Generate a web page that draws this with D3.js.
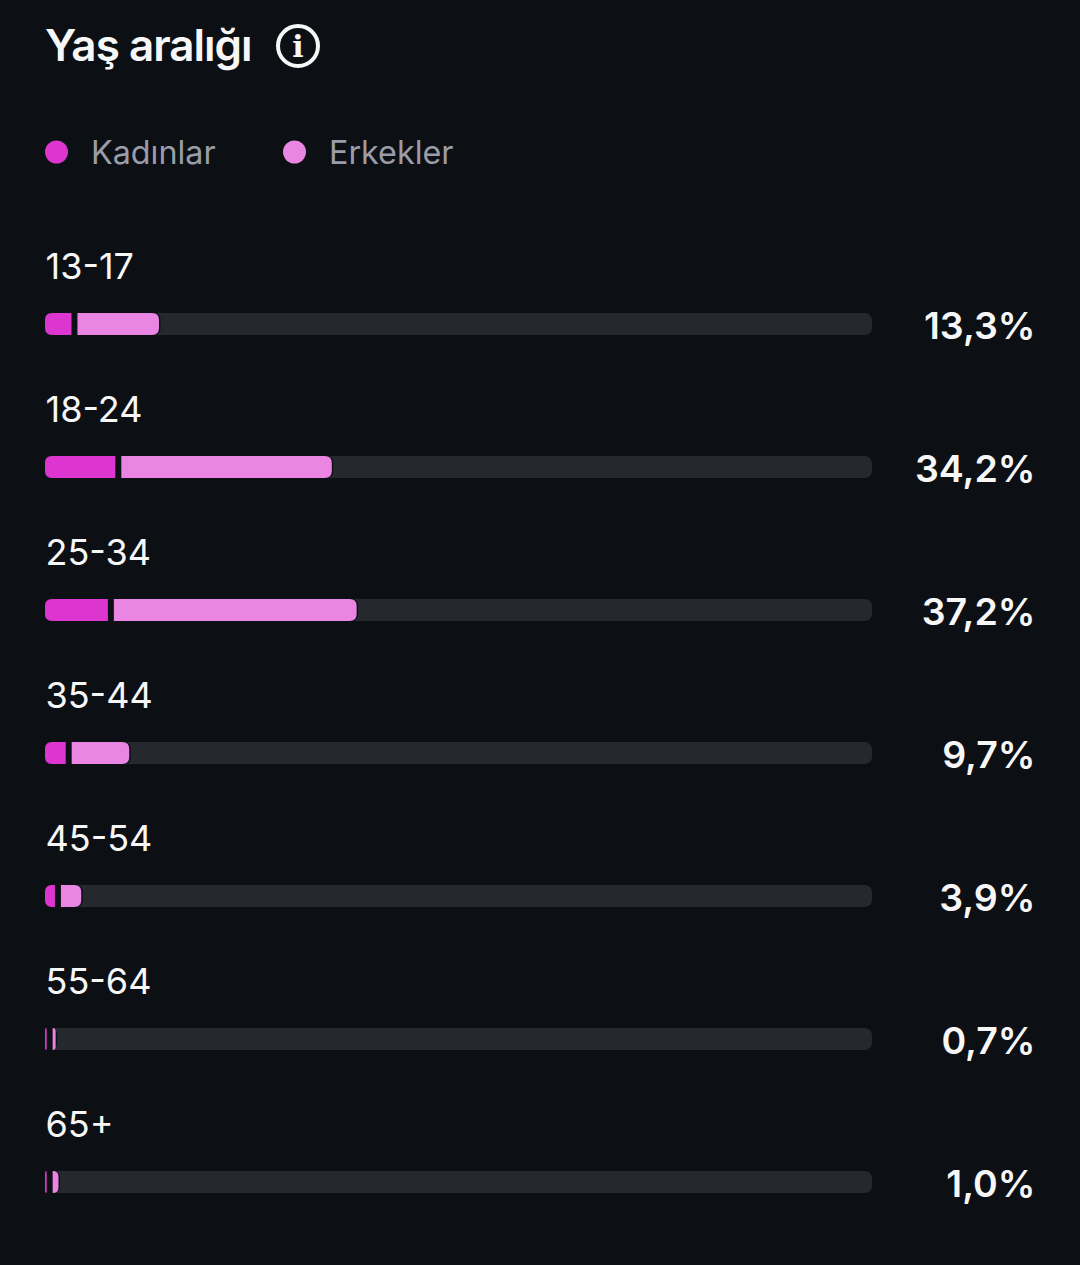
<!DOCTYPE html>
<html>
<head>
<meta charset="utf-8">
<script src="https://cdn.jsdelivr.net/npm/d3@7"></script>
<style>
  html, body { margin: 0; padding: 0; background: #0c0f14; }
  svg { display: block; font-family: Inter, "Noto Sans", sans-serif; }
</style>
</head>
<body>
<div id="chart"></div>
<script>
var categories = ['13-17', '18-24', '25-34', '35-44', '45-54', '55-64', '65+']
var women = [3.2, 8.5, 7.6, 2.5, 1.2, 0.2, 0.2]
var men = [10.1, 25.7, 29.6, 7.2, 2.7, 0.6, 0.95]
var totals = ['13,3%', '34,2%', '37,2%', '9,7%', '3,9%', '0,7%', '1,0%']
var seriesNames = ['Kadınlar', 'Erkekler']

var width = 1080, height = 1265
var background = '#0c0f14'
var barX = 45, barEnd = 872, barHeight = 22, gap = 6, edge = 1.5

var svg = d3.select('#chart').append('svg')
    .attr('width', width)
    .attr('height', height)

var x = d3.scaleLinear().domain([0, 100]).range([0, barEnd - barX])
var y = d3.scalePoint().domain(categories).range([324, 1182])
var color = d3.scaleOrdinal().domain(seriesNames).range(['#dd35cf', '#ea85e3'])

// bar with only the left or right corners rounded
function segment(x0, x1, cy, side) {
    var top = cy - barHeight / 2, bottom = cy + barHeight / 2
    var r = Math.min(7, x1 - x0)
    if (side == 'left') {
        return 'M' + x1 + ',' + top + 'H' + (x0 + r) + 'Q' + x0 + ',' + top + ' ' + x0 + ',' + (top + r) +
            'V' + (bottom - r) + 'Q' + x0 + ',' + bottom + ' ' + (x0 + r) + ',' + bottom + 'H' + x1 + 'Z'
    }
    return 'M' + x0 + ',' + top + 'H' + (x1 - r) + 'Q' + x1 + ',' + top + ' ' + x1 + ',' + (top + r) +
        'V' + (bottom - r) + 'Q' + x1 + ',' + bottom + ' ' + (x1 - r) + ',' + bottom + 'H' + x0 + 'Z'
}

// start and end of the men's segment, the gap and dark edge come out of its width
function menStart(i) { return barX + x(women[i]) + gap }
function menEnd(i) { return menStart(i) + x(men[i]) - 2 }

// title and info icon
svg.append('text')
    .attr('x', 45)
    .attr('y', 61)
    .attr('fill', '#f7f7f8')
    .attr('font-size', '44px')
    .attr('font-weight', 600)
    .attr('letter-spacing', '-1px')
    .text('Yaş aralığı')

svg.append('circle')
    .attr('cx', 298)
    .attr('cy', 46)
    .attr('r', 20)
    .attr('fill', 'none')
    .attr('stroke', '#f7f7f8')
    .attr('stroke-width', 4)

svg.append('text')
    .attr('x', 298)
    .attr('y', 57)
    .attr('text-anchor', 'middle')
    .attr('fill', '#f7f7f8')
    .attr('font-family', '"DejaVu Serif", serif')
    .attr('font-weight', 700)
    .attr('font-size', '30px')
    .text('i')

// legend
var legendX = d3.scaleOrdinal().domain(seriesNames).range([56.5, 294.5])

var legend = svg.selectAll('.legend')
    .data(seriesNames)
    .enter()
    .append('g')
    .attr('class', 'legend')

legend.append('circle')
    .attr('cx', function (d) { return legendX(d) })
    .attr('cy', 152)
    .attr('r', 11.5)
    .attr('fill', function (d) { return color(d) })

legend.append('text')
    .attr('x', function (d) { return legendX(d) + 34.5 })
    .attr('y', 164)
    .attr('fill', '#9a9da8')
    .attr('font-size', '32.3px')
    .text(function (d) { return d })

// rows
var row = svg.selectAll('.row')
    .data(categories)
    .enter()
    .append('g')
    .attr('class', 'row')

row.append('text')
    .attr('x', 45.5)
    .attr('y', function (d) { return y(d) - 45 })
    .attr('fill', '#f7f7f8')
    .attr('font-size', '36px')
    .text(function (d) { return d })

row.append('rect')
    .attr('x', barX)
    .attr('y', function (d) { return y(d) - barHeight / 2 })
    .attr('width', barEnd - barX)
    .attr('height', barHeight)
    .attr('rx', 7)
    .attr('fill', '#25282d')

// dark backing shows through as the gap and the thin edge
row.append('path')
    .attr('fill', background)
    .attr('d', function (d, i) {
        return segment(barX + x(women[i]), menEnd(i) + edge, y(d), 'right')
    })

row.append('path')
    .attr('fill', color('Kadınlar'))
    .attr('d', function (d, i) {
        return segment(barX, barX + x(women[i]), y(d), 'left')
    })

row.append('path')
    .attr('fill', color('Erkekler'))
    .attr('d', function (d, i) {
        return segment(menStart(i), menEnd(i), y(d), 'right')
    })

row.append('text')
    .attr('x', 1035.5)
    .attr('y', function (d) { return y(d) + 15 })
    .attr('text-anchor', 'end')
    .attr('fill', '#f7f7f8')
    .attr('font-size', '37.5px')
    .attr('font-weight', 600)
    .text(function (d, i) { return totals[i] })
</script>
</body>
</html>
